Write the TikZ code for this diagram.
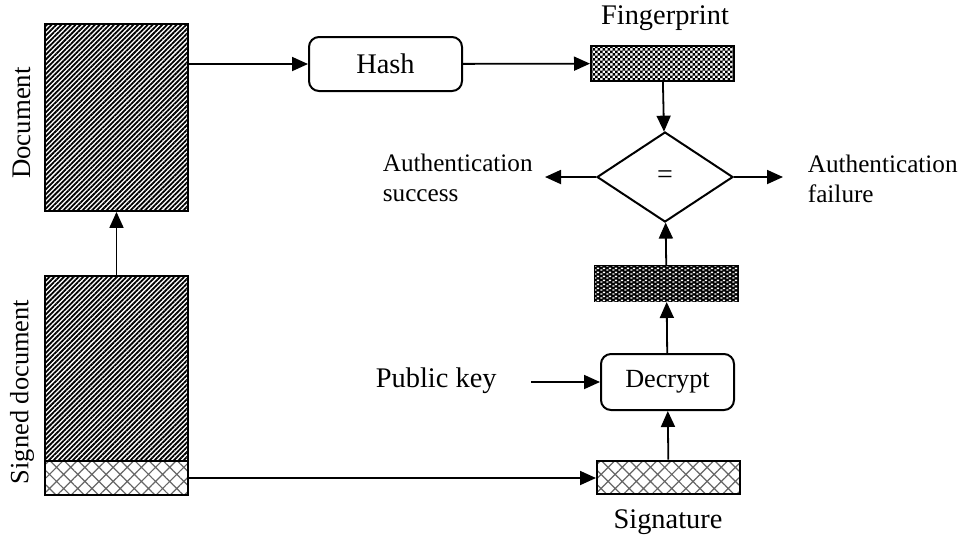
\documentclass[tikz,border=0pt]{standalone}
\usepackage{fontspec}
\setmainfont{Liberation Serif}
\usetikzlibrary{shapes.geometric,patterns,patterns.meta,arrows.meta}

\pgfdeclarepatternformonly{small checks}{\pgfqpoint{-.1pt}{-.1pt}}{\pgfqpoint{2.6pt}{2.6pt}}{\pgfqpoint{2.5pt}{2.5pt}}{%
  \pgfpathrectangle{\pgfqpoint{0pt}{0pt}}{\pgfqpoint{1.25pt}{1.25pt}}%
  \pgfpathrectangle{\pgfqpoint{1.25pt}{1.25pt}}{\pgfqpoint{1.25pt}{1.25pt}}%
  \pgfusepath{fill}}
\pgfdeclarepatternformonly{white dashes}{\pgfqpoint{0pt}{0pt}}{\pgfqpoint{3pt}{2pt}}{\pgfqpoint{3pt}{2pt}}{%
  \pgfpathrectangle{\pgfqpoint{0.2pt}{0.2pt}}{\pgfqpoint{1.2pt}{0.8pt}}%
  \pgfpathrectangle{\pgfqpoint{1.7pt}{1.2pt}}{\pgfqpoint{1.2pt}{0.8pt}}%
  \pgfusepath{fill}}

\tikzset{
  docfill/.style={pattern={Lines[angle=45,distance=1.7pt,line width=0.9pt]}},
  sigfill/.style={pattern={Hatch[angle=45,distance=5pt,line width=0.6pt]}, pattern color=black!60},
}

\begin{document}
\begin{tikzpicture}[x=0.5pt,y=-0.5pt,line width=0.9pt,>={Triangle[length=8pt,width=7pt]}]
      \useasboundingbox (0,0) rectangle (969,538);

      \begin{scope}[every node/.style={rectangle, draw, line width=1pt, inner sep=0pt, minimum width=71.5pt}]
        \node[docfill, minimum height=93.5pt] (1) at (116.5,117.5) {};
        \node[docfill, minimum height=92.5pt] (2) at (116.5,368.5) {};
        \node[sigfill, minimum height=17pt]   (3) at (116.5,478)   {};
        \node[pattern=small checks, minimum height=17.5pt] (5) at (662.5,63.5) {};
        \node[fill=black, postaction={pattern=white dashes, pattern color=white}, minimum height=17.5pt] (8) at (666.5,283.5) {};
        \node[sigfill, minimum height=16.5pt] (10) at (668.5,477) {};
        \node[rounded corners=5pt, minimum width=76.5pt, minimum height=27pt, font=\fontsize{14.2}{16}\selectfont] (4) at (385.5,64) {Hash};
        \node[rounded corners=5pt, minimum width=66.5pt, minimum height=28pt, font=\fontsize{13.1}{15}\selectfont] (9) at (667.5,382) {Decrypt};
        \node[diamond, aspect=1.5, minimum width=68pt, minimum height=45pt, font=\fontsize{14}{16}\selectfont] (6) at (665,177) {=};
      \end{scope}

      \begin{scope}[every node/.style={inner sep=0pt, font=\fontsize{14.2}{16}\selectfont}]
        \node[rotate=90, font=\fontsize{13.4}{15}\selectfont] (d1) at (22,123) {Document};
        \node[rotate=90, font=\fontsize{13.2}{15}\selectfont] (d2) at (22,392) {Signed document};
        \node (f) at (665,18) {Fingerprint};
        \node (s) at (668,522) {Signature};
        \node[anchor=west] (k) at (375,381) {Public key};
        \node[anchor=west, align=left, font=\fontsize{12.6}{15}\selectfont] (ok) at (382,178) {Authentication\\success};
        \node[anchor=west, align=left, font=\fontsize{12.6}{15}\selectfont] (no) at (807,179) {Authentication\\failure};
      \end{scope}

      \coordinate (7) at (545,177);
      \coordinate (11) at (783,177);
      \coordinate (12) at (531,382);

      \begin{scope}[every edge/.style={draw,->}]
        \path (2)  edge (1);
        \path (4.west -| 1.east) edge (4);
        \path (4)  edge (5);
        \path (5)  edge (6);
        \path (6.west) edge (7);
        \path (6.east) edge (11);
        \path (8)  edge (6);
        \path (9)  edge (8);
        \path (10) edge (9);
        \path (12) edge (9);
        \path (3)  edge (3 -| 10.west);
      \end{scope}

    \end{tikzpicture}
\end{document}
